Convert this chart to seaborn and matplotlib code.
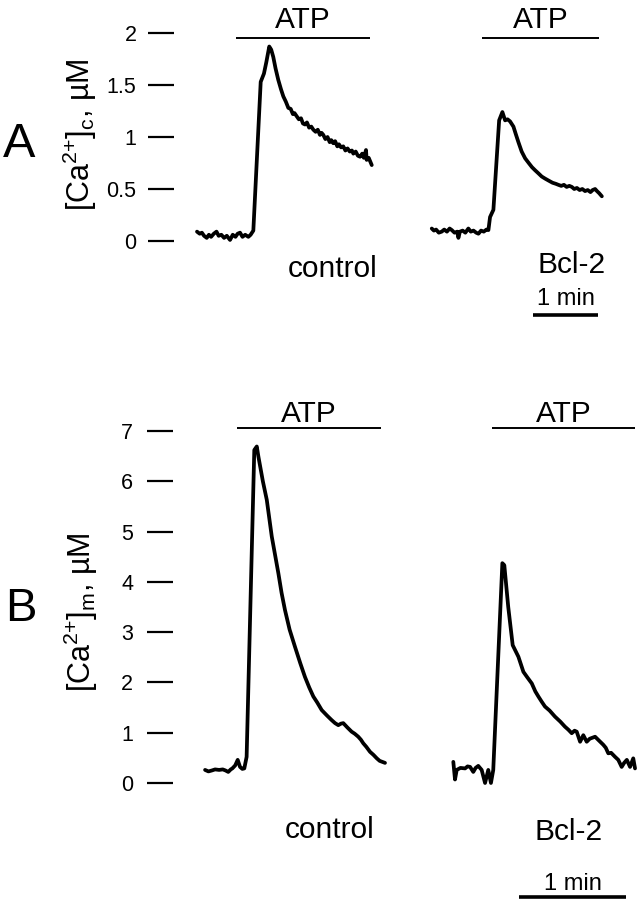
import matplotlib
matplotlib.use("Agg")
import matplotlib.pyplot as plt
import seaborn as sns
import numpy as np
import pandas as pd

# ---------------- data (time in s, concentration in uM) ----------------
ctrl_a_t = [0.0, 2.5, 4.5, 6.5, 9.0, 11.0, 13.0, 15.5, 18.0, 20.0, 22.5, 25.0, 27.5, 30.5, 33.0,
            35.5, 37.5, 39.7, 42.0, 44.5, 47.4, 49.5, 52.0, 58.8, 61.8, 64.0, 66.7, 68.5, 70.4,
            72.5, 75.0, 77.5, 79.7, 82.0, 84.3, 86.5, 88.5, 90.0, 92.0, 94.0, 96.0, 97.8, 99.7,
            101.5, 103.5, 105.5, 107.4, 109.5, 111.5, 113.5, 115.0, 116.6, 118.5, 120.5, 122.5,
            124.0, 125.8, 127.5, 129.5, 131.0, 133.0, 135.0, 137.0, 139.0, 141.0, 143.0, 144.3,
            146.5, 148.5, 150.5, 152.5, 154.0, 156.0, 156.6, 158.5, 161.3]
ctrl_a_v = [0.09, 0.07, 0.08, 0.05, 0.03, 0.06, 0.04, 0.07, 0.09, 0.05, 0.06, 0.03, 0.05, 0.01, 0.06,
            0.04, 0.07, 0.08, 0.04, 0.06, 0.04, 0.06, 0.10, 1.53, 1.61, 1.72, 1.87, 1.84, 1.77,
            1.66, 1.55, 1.46, 1.39, 1.34, 1.28, 1.27, 1.22, 1.23, 1.20, 1.17, 1.18, 1.13, 1.12,
            1.14, 1.09, 1.10, 1.07, 1.05, 1.07, 1.02, 1.04, 1.02, 0.98, 1.00, 0.95,
            0.97, 0.94, 0.96, 0.91, 0.93, 0.90, 0.91, 0.87, 0.89, 0.86, 0.87, 0.84,
            0.86, 0.82, 0.81, 0.84, 0.80, 0.875, 0.78, 0.80, 0.73]

bcl_a_t = [0.0, 2.0, 4.0, 6.5, 9.2, 11.5, 14.0, 16.5, 18.5, 21.0, 23.5, 24.6, 26.0, 28.5, 31.0,
           33.8, 36.0, 38.5, 41.0, 43.1, 45.5, 48.0, 50.5, 52.3, 53.8, 56.9, 62.2, 65.2, 67.7,
           70.0, 72.3, 75.4, 77.5, 80.0, 83.0, 86.2, 89.5, 92.5, 95.4, 98.5, 101.5, 104.6, 108.0,
           111.5, 114.5, 116.9, 119.5, 122.0, 124.5, 127.0, 129.3, 131.5, 134.0, 136.5, 139.0,
           141.5, 144.0, 146.5, 148.5, 150.8, 152.5, 154.5, 157.0]
bcl_a_v = [0.12, 0.10, 0.11, 0.08, 0.09, 0.11, 0.09, 0.12, 0.105, 0.08, 0.09, 0.03, 0.09, 0.10, 0.08,
           0.12, 0.09, 0.10, 0.08, 0.07, 0.10, 0.09, 0.11, 0.105, 0.23, 0.30, 1.16, 1.24, 1.16,
           1.17, 1.15, 1.10, 1.03, 0.95, 0.86, 0.795, 0.75, 0.71, 0.68, 0.65, 0.62, 0.60, 0.58,
           0.56, 0.55, 0.54, 0.53, 0.54, 0.52, 0.53, 0.52, 0.50, 0.51, 0.49, 0.50,
           0.48, 0.49, 0.47, 0.49, 0.50, 0.48, 0.46, 0.43]

ctrl_b_t = [0.6, 2.5, 4.5, 6.2, 8.5, 10.5, 12.0, 13.6, 15.0, 15.9, 17.5, 18.9, 20.2, 21.5, 22.6,
            23.9, 28.2, 29.6, 30.5, 33.0, 35.2, 38.0, 41.7, 43.5, 45.4, 48.0, 51.0, 54.0, 56.6, 59.0,
            61.3, 63.5, 66.0, 69.0, 71.6, 73.5, 75.3, 76.8, 78.1, 80.5, 82.8, 84.5, 86.5, 88.0,
            89.3, 91.0, 93.1, 95.0, 96.9, 98.5, 100.0, 101.5]
ctrl_b_v = [0.26, 0.23, 0.25, 0.27, 0.26, 0.27, 0.25, 0.22, 0.27, 0.29, 0.35, 0.46, 0.32, 0.28, 0.29,
            0.52, 6.62, 6.69, 6.49, 6.00, 5.63, 4.90, 4.17, 3.78, 3.44, 3.05, 2.71, 2.38, 2.11, 1.90,
            1.72, 1.60, 1.45, 1.34, 1.25, 1.19, 1.15, 1.18, 1.19, 1.10, 1.02, 0.98, 0.92, 0.86,
            0.79, 0.72, 0.62, 0.56, 0.49, 0.44, 0.42, 0.40]

bcl_b_t = [0.0, 0.95, 1.9, 4.0, 6.6, 8.0, 9.4, 11.2, 12.5, 14.0, 15.9, 17.8, 19.6, 21.1, 22.4,
           27.5, 28.6, 30.8, 33.3, 36.5, 39.3, 41.5, 44.0, 46.0, 47.7, 49.5, 51.4, 54.0, 57.0,
           60.0, 62.6, 64.5, 66.4, 68.0, 69.2, 71.1, 72.9, 74.8, 76.5, 78.0, 79.5, 81.5, 84.1,
           85.5, 86.9, 88.5, 90.7, 92.5, 94.4, 95.8, 97.3, 99.1, 100.9, 101.9]
bcl_b_v = [0.42, 0.07, 0.26, 0.30, 0.29, 0.33, 0.32, 0.22, 0.30, 0.34, 0.26, 0.00, 0.26, 0.00, 0.26,
           4.37, 4.33, 3.50, 2.74, 2.51, 2.21, 2.10, 1.98, 1.82, 1.72, 1.62, 1.52, 1.44, 1.32,
           1.22, 1.12, 1.06, 0.99, 1.04, 1.02, 0.82, 0.95, 0.82, 0.88, 0.90, 0.92, 0.85, 0.76,
           0.70, 0.59, 0.60, 0.52, 0.46, 0.32, 0.40, 0.46, 0.32, 0.49, 0.29]

# ATP application windows (s, relative to each trace start)
atp_ctrl_a = [36.0, 159.7]
atp_bcl_a = [46.4, 154.4]
atp_ctrl_b = [18.5, 99.3]
atp_bcl_b = [21.7, 101.9]

yticks_a = [0, 0.5, 1, 1.5, 2]
yticklabels_a = ["0", "0.5", "1", "1.5", "2"]
yticks_b = [0, 1, 2, 3, 4, 5, 6, 7]
yticklabels_b = ["0", "1", "2", "3", "4", "5", "6", "7"]

trace_labels = ["control", "Bcl-2"]
scale_bar_s = 60

# ---------------- style ----------------
sns.set_style("white")
plt.rcParams["font.family"] = ["Liberation Sans", "DejaVu Sans"]
plt.rcParams["mathtext.fontset"] = "custom"
plt.rcParams["mathtext.rm"] = "Liberation Sans"
plt.rcParams["mathtext.it"] = "Liberation Sans:italic"
for k in ["text.color", "axes.labelcolor", "xtick.color", "ytick.color"]:
    plt.rcParams[k] = "black"

W, H = 638, 900
fig = plt.figure(figsize=(W / 100, H / 100), dpi=100)

def make_axes(left_px, top_px, bottom_px, x0_px, px_per_s, y0_px, px_per_unit):
    ax = fig.add_axes([left_px / W, 1 - bottom_px / H, (W - left_px) / W, (bottom_px - top_px) / H])
    ax.set_xlim((left_px - x0_px) / px_per_s, (W - x0_px) / px_per_s)
    ax.set_ylim((y0_px - bottom_px) / px_per_unit, (y0_px - top_px) / px_per_unit)
    for s in ax.spines.values():
        s.set_visible(False)
    ax.set_xticks([])
    ax.patch.set_alpha(0)
    return ax

LW = 2.7
TRACE_COLOR = "black"

def trace(ax, t, v, offset):
    df = pd.DataFrame({"t": np.asarray(t) + offset, "v": v})
    sns.lineplot(data=df, x="t", y="v", ax=ax, color=TRACE_COLOR, linewidth=LW,
                 estimator=None, sort=False, solid_joinstyle="round", solid_capstyle="round")
    ax.set_xlabel("")
    ax.set_ylabel("")

# ---------- Panel A ----------
axA = make_axes(174, 0, 330, 197, 65 / 60, 241, 104)
offA = 216.7
trace(axA, ctrl_a_t, ctrl_a_v, 0)
trace(axA, bcl_a_t, bcl_a_v, offA)
axA.set_yticks(yticks_a)
axA.set_yticklabels(yticklabels_a, fontsize=15.5)
axA.tick_params(axis="y", left=True, length=18.7, width=1.6, pad=8.3, direction="out", color="black")
for (a, b), off in [(atp_ctrl_a, 0), (atp_bcl_a, offA)]:
    axA.hlines(1.95, a + off, b + off, color="black", linewidth=1.4)
    axA.text((a + b) / 2 + off, 2.045, "ATP", ha="center", va="baseline", fontsize=21.5)
axA.text(125, -0.346, trace_labels[0], ha="center", va="baseline", fontsize=21.5)
axA.text(345.3, -0.31, trace_labels[1], ha="center", va="baseline", fontsize=21.5)
axA.hlines(-0.71, 310.2, 310.2 + scale_bar_s, color="black", linewidth=2.6, clip_on=False)
axA.text(310.2 + scale_bar_s / 2, -0.62, "1 min", ha="center", va="baseline", fontsize=17)

# ---------- Panel B ----------
axB = make_axes(173, 390, 900, 204, 107 / 60, 783, 50.3)
offB = 139.8
trace(axB, ctrl_b_t, ctrl_b_v, 0)
trace(axB, bcl_b_t, bcl_b_v, offB)
axB.set_yticks(yticks_b)
axB.set_yticklabels(yticklabels_b, fontsize=15.5)
axB.tick_params(axis="y", left=True, length=18.7, width=1.6, pad=10, direction="out", color="black")
for (a, b), off in [(atp_ctrl_b, 0), (atp_bcl_b, offB)]:
    axB.hlines(7.06, a + off, b + off, color="black", linewidth=1.4)
    axB.text((a + b) / 2 + off, 7.18, "ATP", ha="center", va="baseline", fontsize=21.5)
axB.text(70.7, -1.09, trace_labels[0], ha="center", va="baseline", fontsize=21.5)
axB.text(204.7, -1.13, trace_labels[1], ha="center", va="baseline", fontsize=21.5)
axB.hlines(-2.27, 176.7, 176.7 + scale_bar_s, color="black", linewidth=2.6, clip_on=False)
axB.text(176.7 + scale_bar_s / 2, -2.13, "1 min", ha="center", va="baseline", fontsize=17)

# ---------- panel letters and axis labels ----------
fig.text(19 / W, 1 - 157 / H, "A", ha="center", va="baseline", fontsize=35)
fig.text(21 / W, 1 - 620.7 / H, "B", ha="center", va="baseline", fontsize=34)
fig.text(80 / W, 1 - 135 / H, r"[Ca$^{2{+}}$]$_{\mathrm{c}}$, µM", rotation=90,
         ha="center", va="center", fontsize=22)
fig.text(81 / W, 1 - 612 / H, r"[Ca$^{2{+}}$]$_{\mathrm{m}}$, µM", rotation=90,
         ha="center", va="center", fontsize=22)

fig.savefig("out.png", dpi=100, facecolor="white")
